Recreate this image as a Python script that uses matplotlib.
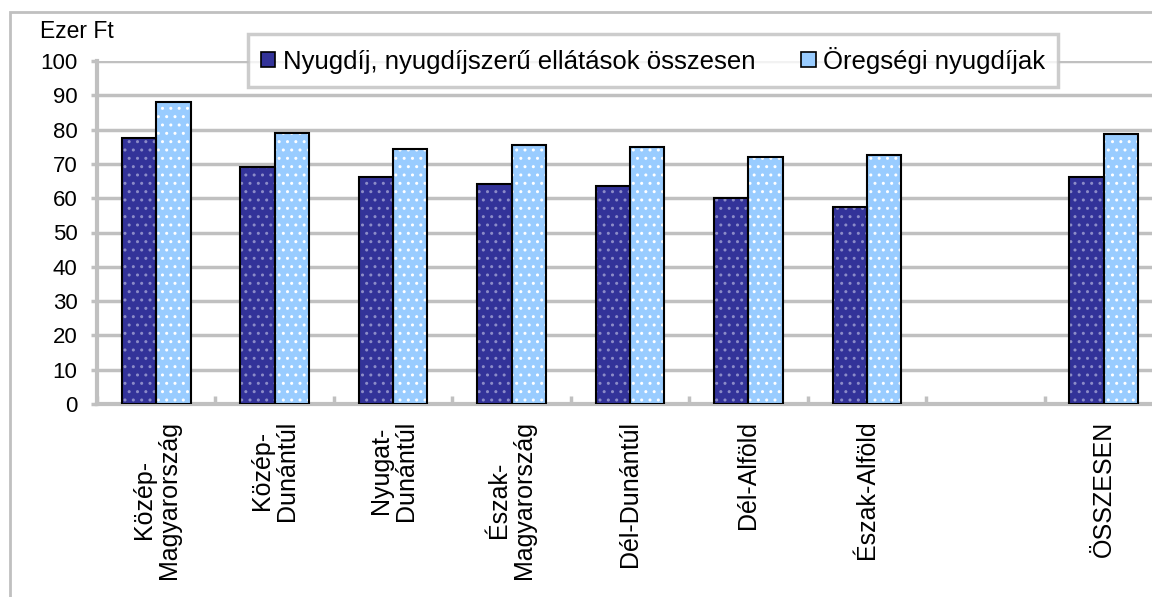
import numpy as np
import matplotlib.pyplot as plt
from matplotlib.patches import Rectangle, Patch

regions = ['Közép-\nMagyarország', 'Közép-\nDunántúl', 'Nyugat-\nDunántúl',
           'Észak-\nMagyarország', 'Dél-Dunántúl', 'Dél-Alföld', 'Észak-Alföld',
           '', 'ÖSSZESEN']
total = [77.5, 69.2, 66.2, 64.1, 63.5, 60.0, 57.5, np.nan, 66.3]
old_age = [88.0, 79.1, 74.3, 75.5, 75.0, 72.0, 72.6, np.nan, 78.6]
series_names = ['Nyugdíj, nyugdíjszerű ellátások összesen', 'Öregségi nyugdíjak']

plt.rcParams['font.family'] = ['Liberation Sans', 'DejaVu Sans']
plt.rcParams['hatch.linewidth'] = 1.0

fig = plt.figure(figsize=(11.52, 5.97), dpi=100)
fig.patches.append(Rectangle((10 / 1152, -0.1), 1.2, 1 - 12 / 597 + 0.1,
                             transform=fig.transFigure, fill=False,
                             edgecolor='#c0c0c0', linewidth=2))

ax = fig.add_axes([97 / 1152, 1 - 404 / 597, 1066 / 1152, 343 / 597])
x = np.arange(len(regions)) + 0.5
w = 0.29
colors = ['#333399', '#99ccff']
dotcol = ['#8c8cc8', '#ffffff']
for i, vals in enumerate([total, old_age]):
    pos = x + (i - 0.5) * w
    ax.bar(pos, vals, width=w, color=colors[i], hatch='..', edgecolor=dotcol[i],
           linewidth=0, zorder=3)
    ax.bar(pos, vals, width=w, fill=False, edgecolor='black', linewidth=1.5, zorder=4)

ax.set_xlim(0, len(regions))
ax.set_ylim(0, 100)
ax.set_yticks(np.arange(0, 101, 10))
ax.yaxis.grid(True, color='#c0c0c0', linewidth=2.5, zorder=0)
ax.set_axisbelow(True)
for s in ['top', 'right']:
    ax.spines[s].set_visible(False)
for s in ['left', 'bottom']:
    ax.spines[s].set_color('#c0c0c0')
    ax.spines[s].set_linewidth(3)
ax.tick_params(axis='y', length=4, width=2.5, color='#c0c0c0', labelsize=16, pad=10)
ax.set_xticks(np.arange(len(regions) + 1), minor=True)
ax.set_xticks(x)
ax.set_xticklabels(regions, rotation=90, ha='center', va='top',
                   multialignment='center', fontsize=18, linespacing=1.05)
ax.tick_params(axis='x', which='major', length=0, pad=12)
ax.tick_params(axis='x', which='minor', direction='in', length=6, width=2.5,
               color='#c0c0c0')

fig.text(40 / 1152, 1 - 32 / 597, 'Ezer Ft', fontsize=16.5, va='center', ha='left')

handles = [Patch(facecolor=colors[i], edgecolor='black', linewidth=1.2) for i in range(2)]
leg = fig.legend(handles, series_names, ncol=2, fontsize=18.5,
                 loc='upper left', bbox_to_anchor=(248 / 1152, 1 - 34 / 597),
                 frameon=True, fancybox=False, handlelength=0.55, handleheight=0.55,
                 handletextpad=0.3, columnspacing=1.8, borderpad=0.5,
                 borderaxespad=0)
leg.get_frame().set_edgecolor('#c0c0c0')
leg.get_frame().set_linewidth(2.5)

fig.savefig('out.png', dpi=100)
